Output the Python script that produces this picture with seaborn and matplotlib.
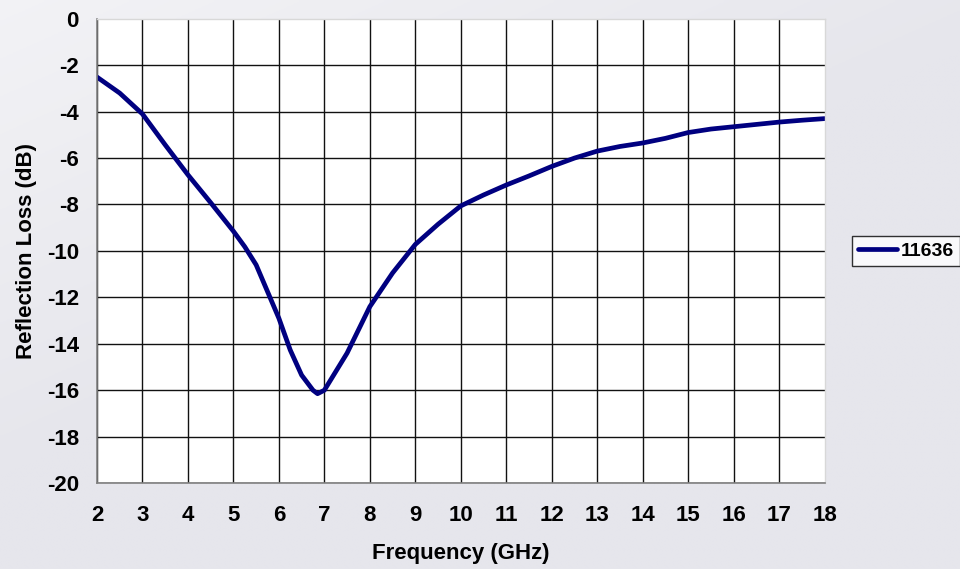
import numpy as np
import pandas as pd
import matplotlib
matplotlib.use("Agg")
import matplotlib.pyplot as plt
import seaborn as sns
from matplotlib.lines import Line2D

freq = [2.0, 2.5, 3.0, 3.5, 4.0, 4.5, 5.0, 5.25, 5.5, 5.75, 6.0, 6.25, 6.5, 6.75,
        6.85, 7.0, 7.25, 7.5, 7.75, 8.0, 8.5, 9.0, 9.5, 10.0, 10.5, 11.0, 11.5,
        12.0, 12.5, 13.0, 13.5, 14.0, 14.5, 15.0, 15.5, 16.0, 16.5, 17.0, 17.5, 18.0]
loss = [-2.51, -3.2, -4.1, -5.43, -6.72, -7.92, -9.15, -9.82, -10.6, -11.75, -12.9,
        -14.27, -15.35, -16.0, -16.15, -16.0, -15.2, -14.4, -13.4, -12.4, -10.95,
        -9.72, -8.85, -8.06, -7.59, -7.16, -6.77, -6.36, -6.0, -5.7, -5.5, -5.35,
        -5.15, -4.9, -4.75, -4.65, -4.55, -4.45, -4.37, -4.3]
series_name = "11636"
x_ticks = list(range(2, 19))
y_ticks = list(range(-20, 1, 2))

df = pd.DataFrame({"Frequency": freq, "Loss": loss, "series": series_name})

sns.set_theme(style="white")
plt.rcParams["font.family"] = ["Liberation Sans", "DejaVu Sans"]
plt.rcParams["font.weight"] = "bold"
plt.rcParams["axes.unicode_minus"] = False

bg = "#E6E6EC"
fig = plt.figure(figsize=(9.6, 5.69), dpi=100, facecolor=bg)

# subtle background gradient (lighter swoosh at top-left)
bgax = fig.add_axes([0, 0, 1, 1], zorder=-10)
yy, xx = np.mgrid[0:1:200j, 0:1:300j]
shade = np.clip(1 - (xx * 0.9 + (1 - yy) * 1.2), 0, 1) * 0.5
img = np.zeros((200, 300, 3))
base = np.array([0xE6, 0xE6, 0xEC]) / 255.0
for c in range(3):
    img[..., c] = base[c] + (1 - base[c]) * shade
bgax.imshow(img, extent=[0, 1, 0, 1], aspect="auto", origin="lower")
bgax.axis("off")

ax = fig.add_axes([0.101, 0.151, 0.758, 0.816])
ax.set_facecolor("white")
sns.lineplot(data=df, x="Frequency", y="Loss", hue="series", palette=["#000080"],
             linewidth=3.4, ax=ax, legend=False)

ax.set_xlim(2, 18)
ax.set_ylim(-20, 0)
ax.set_xticks(x_ticks)
ax.set_yticks(y_ticks)
ax.grid(True, color="#111111", linewidth=1.0)
ax.set_axisbelow(True)
# no black gridline on the top / right border
ax.xaxis.get_gridlines()[-1].set_visible(False)
ax.yaxis.get_gridlines()[-1].set_visible(False)
for s in ["top", "right"]:
    ax.spines[s].set_color("#D8D8D8")
    ax.spines[s].set_linewidth(1.0)
for s in ["left", "bottom"]:
    ax.spines[s].set_color("#808080")
    ax.spines[s].set_linewidth(1.2)
ax.tick_params(axis="both", which="both", direction="out", length=5, width=1.2,
               color="#808080", labelsize=16, labelcolor="black")
ax.tick_params(axis="x", pad=11)
ax.tick_params(axis="y", pad=8)
for lbl in ax.get_xticklabels() + ax.get_yticklabels():
    lbl.set_fontweight("bold")
ax.set_xlabel("Frequency (GHz)", fontsize=16, fontweight="bold", labelpad=12,
              color="black")
ax.set_ylabel("Reflection Loss (dB)", fontsize=16, fontweight="bold", labelpad=7,
              color="black")

handle = Line2D([], [], color="#000080", linewidth=3.4)
leg = fig.legend([handle], [series_name], loc="center left",
                 bbox_to_anchor=(852 / 960, 1 - 251 / 569),
                 frameon=True, fancybox=False, handlelength=2.0, handletextpad=0.2,
                 borderpad=0.3, borderaxespad=0,
                 prop={"weight": "bold", "size": 14})
for t in leg.get_texts():
    t.set_color("black")
leg.get_frame().set_edgecolor("black")
leg.get_frame().set_linewidth(1.0)
leg.get_frame().set_facecolor("white")

fig.savefig("out.png", dpi=100, facecolor=bg)
